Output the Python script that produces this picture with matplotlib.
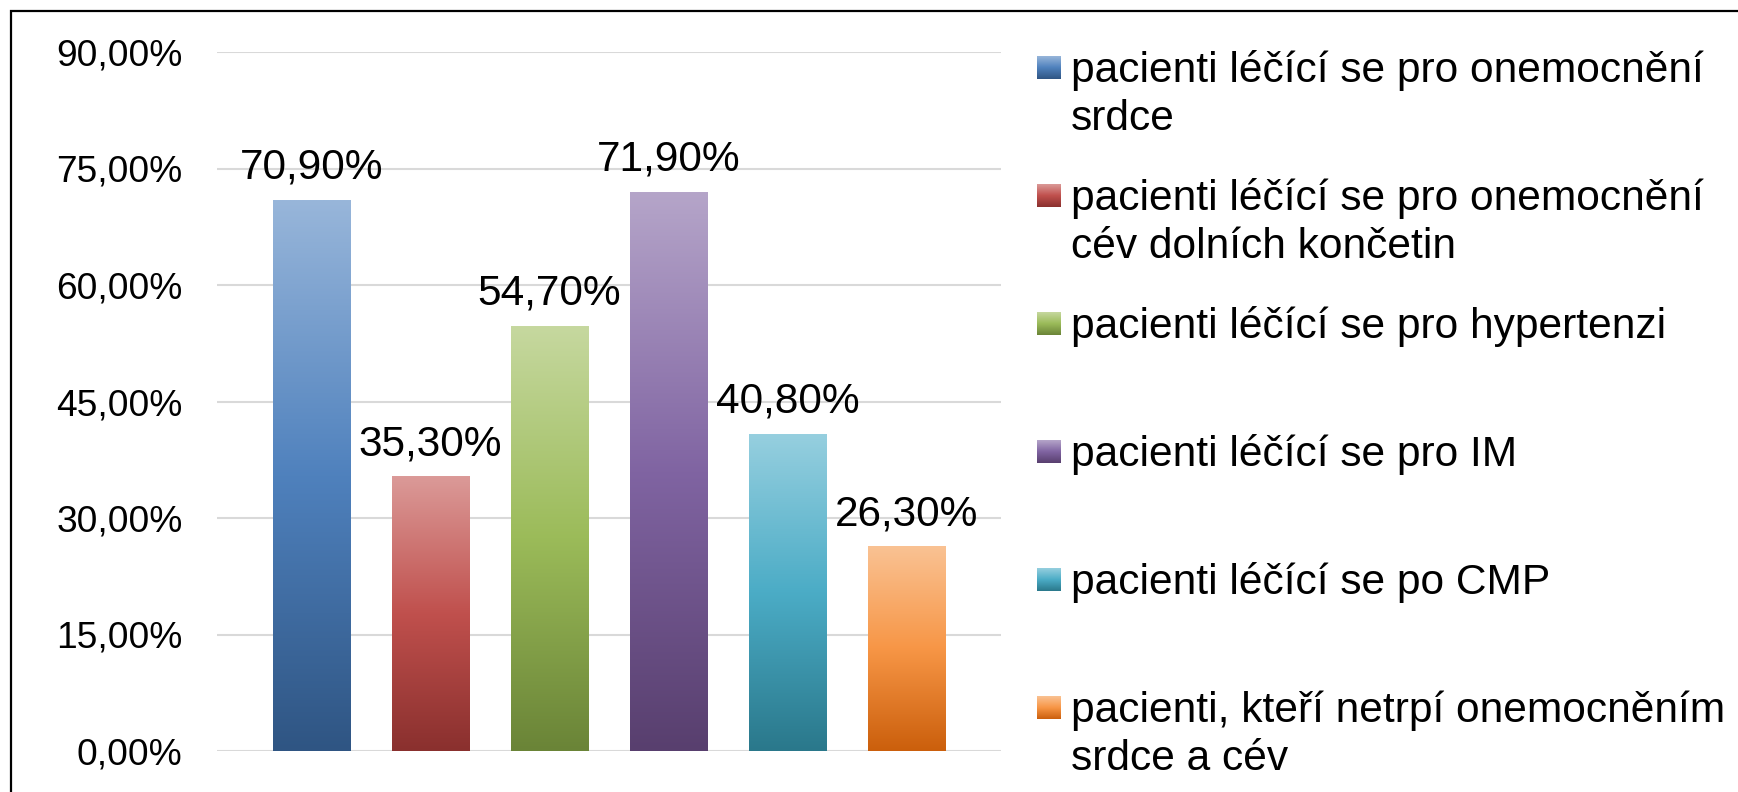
import numpy as np
import matplotlib
matplotlib.use("Agg")
import matplotlib.pyplot as plt
from matplotlib.colors import to_rgb

plt.rcParams['font.family'] = ['Liberation Sans', 'DejaVu Sans']

# data
values = [70.9, 35.3, 54.7, 71.9, 40.8, 26.3]
labels = [
    "pacienti léčící se pro onemocnění\nsrdce",
    "pacienti léčící se pro onemocnění\ncév dolních končetin",
    "pacienti léčící se pro hypertenzi",
    "pacienti léčící se pro IM",
    "pacienti léčící se po CMP",
    "pacienti, kteří netrpí onemocněním\nsrdce a cév",
]
yticks = [0, 15, 30, 45, 60, 75, 90]

# gradient stops: top (light), middle, bottom (dark)
grads = [
    ("#98B6DA", "#4F81BD", "#2F5583"),
    ("#DB9A98", "#C0504D", "#8A302E"),
    ("#C6D89F", "#9BBB59", "#6A8437"),
    ("#B5A5C9", "#8064A2", "#583F6E"),
    ("#96CFDF", "#4BACC6", "#2A788B"),
    ("#FAC293", "#F79646", "#CB5F0C"),
]


def gradient(stops, n=256):
    c = np.array([to_rgb(s) for s in stops])
    t = np.linspace(0, 1, n)
    img = np.empty((n, 1, 3))
    for k in range(3):
        img[:, 0, k] = np.interp(t, [0, 0.5, 1], c[:, k])
    return img


W, H = 1738, 792
fig = plt.figure(figsize=(W / 100, H / 100), dpi=100)
ax = fig.add_axes([217.3 / W, 1 - 751 / H, (1001 - 217.3) / W, (751 - 52) / H])

x = np.arange(len(values))
bars = ax.bar(x, values, width=0.647, color="none", edgecolor="none", zorder=2)
for b, g in zip(bars, grads):
    x0, w, h = b.get_x(), b.get_width(), b.get_height()
    ax.imshow(gradient(g), extent=(x0, x0 + w, 0, h), origin="upper",
              aspect="auto", zorder=2, interpolation="bilinear")

for xi, v in zip(x, values):
    ax.annotate(f"{v:.2f}".replace(".", ",") + "%", (xi, v), xytext=(0, 15.6),
                textcoords="offset points", ha="center", va="baseline",
                fontsize=30.5, color="black", zorder=3)

ax.set_xlim(-0.79, len(values) - 1 + 0.79)
ax.set_ylim(0, 90)
ax.set_yticks(yticks)
ax.set_yticklabels([f"{t:.2f}".replace(".", ",") + "%" for t in yticks], fontsize=26.7)
ax.set_xticks([])
ax.tick_params(axis="y", length=0, pad=24.9)
ax.yaxis.grid(True, color="#D9D9D9", linewidth=1.5)
ax.set_axisbelow(True)
for s in ax.spines.values():
    s.set_visible(False)

# overlay in pixel coords for legend and frame
ov = fig.add_axes([0, 0, 1, 1], facecolor="none")
ov.set_zorder(5)
for i, (lab, g) in enumerate(zip(labels, grads)):
    yc = 68 + 128 * i
    ov.imshow(gradient(g), extent=(1036.7, 1060, yc + 11.3, yc - 11.3), origin="upper",
              aspect="auto", interpolation="bilinear")
    for j, line in enumerate(lab.split("\n")):
        ov.text(1070.7, 82 + 128 * i + 48.4 * j, line, fontsize=30.6,
                va="baseline", ha="left", color="black")
ov.plot([10.5, 10.5, W + 5], [H + 5, 11, 11], color="black", linewidth=1.6,
        solid_joinstyle="miter")
ov.set_xlim(0, W)
ov.set_ylim(H, 0)
ov.axis("off")

fig.savefig("out.png", dpi=100)
